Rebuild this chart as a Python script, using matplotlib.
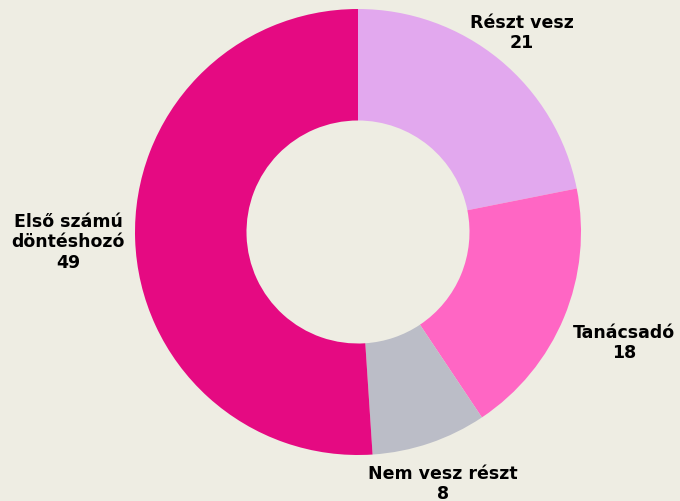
import numpy as np
import matplotlib.pyplot as plt

# Data
categories = ["Részt vesz", "Tanácsadó", "Nem vesz részt", "Első számú\ndöntéshozó"]
values = [21, 18, 8, 49]
colors = ["#E2A8EE", "#FF66C4", "#BBBDC7", "#E50A82"]
label_dist = [1.16, 1.29, 1.19, 1.30]

bg = "#EEEDE3"

fig = plt.figure(figsize=(6.8, 5.02), dpi=100)
fig.patch.set_facecolor(bg)
ax = fig.add_axes([0, 0, 1, 1])
ax.set_facecolor(bg)

cx, cy, r = 358, 269, 223
wedges, _ = ax.pie(values, colors=colors, startangle=90, counterclock=False,
                   radius=r, center=(cx, cy), frame=True,
                   wedgeprops=dict(width=r * 0.5, linewidth=0))
ax.set_xlim(0, 680)
ax.set_ylim(0, 502)
ax.set_aspect("equal")
ax.axis("off")

for w, name, v, d in zip(wedges, categories, values, label_dist):
    ang = np.deg2rad((w.theta1 + w.theta2) / 2)
    x = cx + r * d * np.cos(ang)
    y = cy + r * d * np.sin(ang)
    ax.text(x, y, f"{name}\n{v}", ha="center", va="center",
            fontsize=12.5, fontweight="bold", color="#000000",
            linespacing=1.15)

plt.savefig("out.png", dpi=100, facecolor=bg)
